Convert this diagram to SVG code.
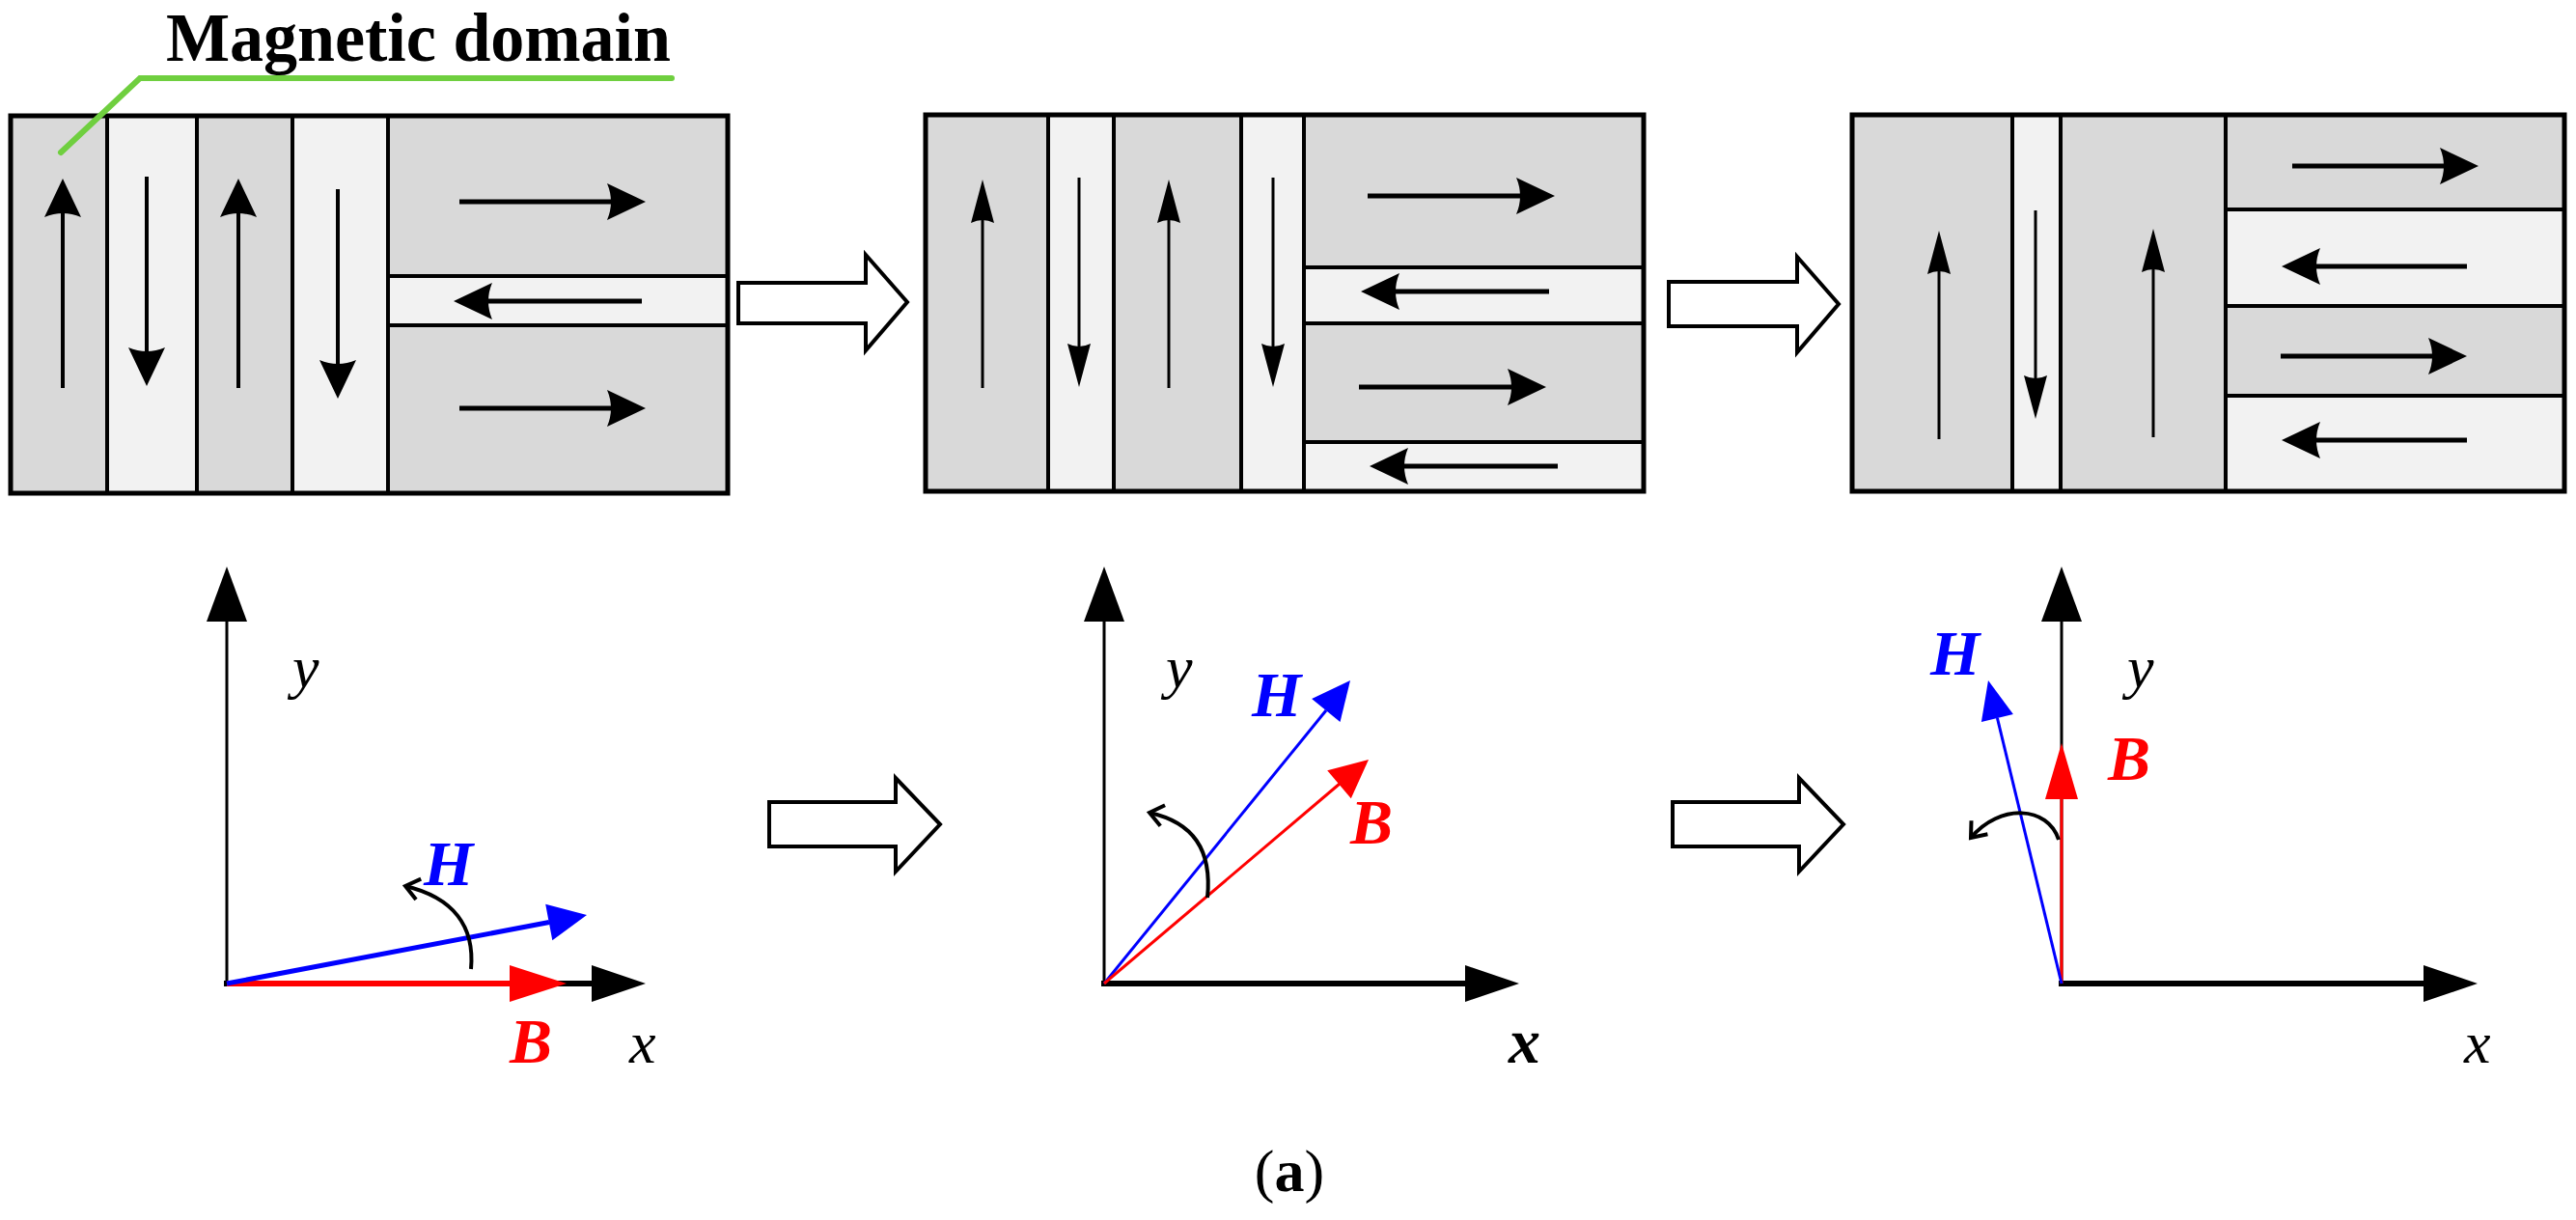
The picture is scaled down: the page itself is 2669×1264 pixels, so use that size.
<svg xmlns="http://www.w3.org/2000/svg" width="2669" height="1264" viewBox="0 0 2669 1264">
<style>
.dk{fill:#d9d9d9}.lt{fill:#f2f2f2}
.bx{fill:none;stroke:#000;stroke-width:5}
.dv{stroke:#000;stroke-width:4}
.da{stroke:#000;stroke-width:5;marker-end:url(#h)}
.dv1{stroke:#000;stroke-width:4;marker-end:url(#h)}
.ta{stroke:#000;stroke-width:3;marker-end:url(#t)}
.ho{fill:#fff;stroke:#000;stroke-width:4}
.ax{stroke:#000;stroke-width:3}
.axx{stroke:#000;stroke-width:6}
.cv{fill:none;stroke:#000;stroke-width:4;marker-end:url(#c)}
text{font-family:"Liberation Serif","Times New Roman",serif}
.lb{font-size:66px;font-weight:bold;font-style:italic}
.it{font-size:62px;font-style:italic}
</style>
<defs>
<marker id="h" markerUnits="userSpaceOnUse" refX="25" refY="0" markerWidth="60" markerHeight="60" orient="auto" overflow="visible"><path d="M0,-19 L40,0 L0,19 Q8,0 0,-19Z" fill="#000"/></marker>
<marker id="t" markerUnits="userSpaceOnUse" refX="30" refY="0" markerWidth="60" markerHeight="60" orient="auto" overflow="visible"><path d="M0,-12 L45,0 L0,12 Q6,0 0,-12Z" fill="#000"/></marker>
<marker id="c" markerUnits="userSpaceOnUse" refX="0" refY="0" markerWidth="40" markerHeight="40" orient="auto" overflow="visible"><path d="M-14,-11 L0,0 L-14,11" fill="none" stroke="#000" stroke-width="4"/></marker>
</defs>

<g id="panel1">
<rect x="11" y="120" width="100" height="391" class="dk"/>
<rect x="111" y="120" width="93" height="391" class="lt"/>
<rect x="204" y="120" width="99" height="391" class="dk"/>
<rect x="303" y="120" width="99" height="391" class="lt"/>
<rect x="402" y="120" width="352" height="166" class="dk"/>
<rect x="402" y="286" width="352" height="51" class="lt"/>
<rect x="402" y="337" width="352" height="174" class="dk"/>
<line x1="111" y1="120" x2="111" y2="511" class="dv"/>
<line x1="204" y1="120" x2="204" y2="511" class="dv"/>
<line x1="303" y1="120" x2="303" y2="511" class="dv"/>
<line x1="402" y1="120" x2="402" y2="511" class="dv"/>
<line x1="402" y1="286" x2="754" y2="286" class="dv"/>
<line x1="402" y1="337" x2="754" y2="337" class="dv"/>
<rect x="11" y="120" width="743" height="391" class="bx"/>
<line x1="65" y1="402" x2="65" y2="200" class="dv1"/>
<line x1="152" y1="183" x2="152" y2="385" class="dv1"/>
<line x1="247" y1="402" x2="247" y2="200" class="dv1"/>
<line x1="350" y1="196" x2="350" y2="398" class="dv1"/>
<line x1="476" y1="209" x2="654" y2="209" class="da"/>
<line x1="665" y1="312" x2="485" y2="312" class="da"/>
<line x1="476" y1="423" x2="654" y2="423" class="da"/>
</g>

<g id="label">
<polyline points="63,158 145,81 696,81" fill="none" stroke="#6fcf3f" stroke-width="6" stroke-linecap="round"/>
<text x="172" y="63" font-size="72" font-weight="bold" textLength="523" lengthAdjust="spacingAndGlyphs">Magnetic domain</text>
</g>

<g id="panel2">
<rect x="959" y="119" width="127" height="390" class="dk"/>
<rect x="1086" y="119" width="68" height="390" class="lt"/>
<rect x="1154" y="119" width="132" height="390" class="dk"/>
<rect x="1286" y="119" width="65" height="390" class="lt"/>
<rect x="1351" y="119" width="352" height="158" class="dk"/>
<rect x="1351" y="277" width="352" height="58" class="lt"/>
<rect x="1351" y="335" width="352" height="123" class="dk"/>
<rect x="1351" y="458" width="352" height="51" class="lt"/>
<line x1="1086" y1="119" x2="1086" y2="509" class="dv"/>
<line x1="1154" y1="119" x2="1154" y2="509" class="dv"/>
<line x1="1286" y1="119" x2="1286" y2="509" class="dv"/>
<line x1="1351" y1="119" x2="1351" y2="509" class="dv"/>
<line x1="1351" y1="277" x2="1703" y2="277" class="dv"/>
<line x1="1351" y1="335" x2="1703" y2="335" class="dv"/>
<line x1="1351" y1="458" x2="1703" y2="458" class="dv"/>
<rect x="959" y="119" width="744" height="390" class="bx"/>
<line x1="1018" y1="402" x2="1018" y2="201" class="ta"/>
<line x1="1118" y1="184" x2="1118" y2="386" class="ta"/>
<line x1="1211" y1="402" x2="1211" y2="201" class="ta"/>
<line x1="1319" y1="184" x2="1319" y2="386" class="ta"/>
<line x1="1417" y1="203" x2="1596" y2="203" class="da"/>
<line x1="1605" y1="302" x2="1425" y2="302" class="da"/>
<line x1="1408" y1="401" x2="1587" y2="401" class="da"/>
<line x1="1614" y1="483" x2="1434" y2="483" class="da"/>
</g>

<g id="panel3">
<rect x="1919" y="119" width="166" height="390" class="dk"/>
<rect x="2085" y="119" width="50" height="390" class="lt"/>
<rect x="2135" y="119" width="171" height="390" class="dk"/>
<rect x="2306" y="119" width="351" height="98" class="dk"/>
<rect x="2306" y="217" width="351" height="100" class="lt"/>
<rect x="2306" y="317" width="351" height="93" class="dk"/>
<rect x="2306" y="410" width="351" height="99" class="lt"/>
<line x1="2085" y1="119" x2="2085" y2="509" class="dv"/>
<line x1="2135" y1="119" x2="2135" y2="509" class="dv"/>
<line x1="2306" y1="119" x2="2306" y2="509" class="dv"/>
<line x1="2306" y1="217" x2="2657" y2="217" class="dv"/>
<line x1="2306" y1="317" x2="2657" y2="317" class="dv"/>
<line x1="2306" y1="410" x2="2657" y2="410" class="dv"/>
<rect x="1919" y="119" width="738" height="390" class="bx"/>
<line x1="2009" y1="455" x2="2009" y2="254" class="ta"/>
<line x1="2109" y1="218" x2="2109" y2="419" class="ta"/>
<line x1="2231" y1="453" x2="2231" y2="252" class="ta"/>
<line x1="2375" y1="172" x2="2553" y2="172" class="da"/>
<line x1="2556" y1="276" x2="2379" y2="276" class="da"/>
<line x1="2363" y1="369" x2="2541" y2="369" class="da"/>
<line x1="2556" y1="456" x2="2379" y2="456" class="da"/>
</g>

<g id="connectors">
<polygon points="765,293 897,293 897,264 940,313 897,363 897,335 765,335" class="ho"/>
<polygon points="1729,292 1862,292 1862,266 1905,315 1862,365 1862,338 1729,338" class="ho"/>
<polygon points="797,831 928,831 928,806 974,854 928,903 928,877 797,877" class="ho"/>
<polygon points="1733,831 1864,831 1864,806 1910,854 1864,903 1864,877 1733,877" class="ho"/>
</g>

<g id="axes1">
<line x1="235" y1="1019" x2="235" y2="640" class="ax"/>
<polygon points="235,587 256,644 214,644"/>
<line x1="232" y1="1019" x2="615" y2="1019" class="axx"/>
<polygon points="669,1019 613,1000 613,1038"/>
<line x1="235" y1="1019" x2="530" y2="1019" stroke="#f00" stroke-width="6"/>
<polygon points="587,1019 528,1000 528,1038" fill="#f00"/>
<line x1="235" y1="1019" x2="569" y2="955.5" stroke="#00f" stroke-width="5"/>
<polygon points="608,948 572.3,974.2 565.2,936.8" fill="#00f"/>
<path d="M488,1004 C492,960 470,930 420,918" class="cv"/>
<text x="439" y="917" class="lb" fill="#00f">H</text>
<text x="528" y="1101" class="lb" fill="#f00">B</text>
<text x="652" y="1101" class="it">x</text>
<text x="303" y="712" class="it">y</text>
</g>

<g id="axes2">
<line x1="1144" y1="1019" x2="1144" y2="640" class="ax"/>
<polygon points="1144,587 1165,644 1123,644"/>
<line x1="1141" y1="1019" x2="1520" y2="1019" class="axx"/>
<polygon points="1574,1019 1518,1000 1518,1038"/>
<line x1="1144" y1="1019" x2="1374" y2="736" stroke="#00f" stroke-width="3"/>
<polygon points="1399,705 1388.5,748 1359.1,724" fill="#00f"/>
<line x1="1144" y1="1019" x2="1388" y2="812" stroke="#f00" stroke-width="3"/>
<polygon points="1418,787 1399.8,827.3 1375.2,798.3" fill="#f00"/>
<path d="M1251,930 C1256,880 1236,852 1191,842" class="cv"/>
<text x="1297" y="742" class="lb" fill="#00f">H</text>
<text x="1399" y="874" class="lb" fill="#f00">B</text>
<text x="1563" y="1101" class="lb" fill="#000">x</text>
<text x="1208" y="712" class="it">y</text>
</g>

<g id="axes3">
<line x1="2136" y1="1019" x2="2136" y2="640" class="ax"/>
<polygon points="2136,587 2157,644 2115,644"/>
<line x1="2133" y1="1019" x2="2513" y2="1019" class="axx"/>
<polygon points="2567,1019 2511,1000 2511,1038"/>
<line x1="2136" y1="1019" x2="2136" y2="826" stroke="#f00" stroke-width="3"/>
<polygon points="2136,770 2153,828 2119,828" fill="#f00"/>
<line x1="2136" y1="1019" x2="2069.4" y2="743.9" stroke="#00f" stroke-width="3"/>
<polygon points="2060,705 2085.9,739.9 2052.9,747.9" fill="#00f"/>
<path d="M2133,870 C2122,835 2072,832 2042,868" class="cv"/>
<text x="2000" y="699" class="lb" fill="#00f">H</text>
<text x="2184" y="808" class="lb" fill="#f00">B</text>
<text x="2553" y="1101" class="it">x</text>
<text x="2204" y="712" class="it">y</text>
</g>

<text x="1336" y="1234" font-size="62" text-anchor="middle">(<tspan font-weight="bold">a</tspan>)</text>
</svg>
